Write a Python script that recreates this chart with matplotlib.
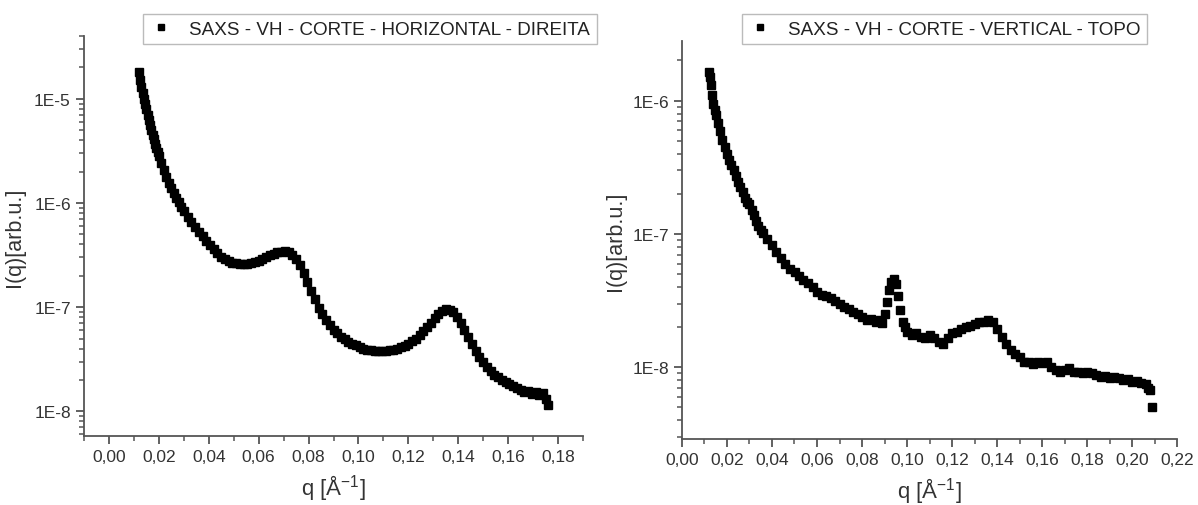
import matplotlib
matplotlib.use("Agg")
import matplotlib.pyplot as plt
import numpy as np
from matplotlib.ticker import MultipleLocator, LogLocator, FuncFormatter, NullFormatter

plt.rcParams['font.family'] = ['Liberation Sans', 'DejaVu Sans']
plt.rcParams['mathtext.default'] = 'regular'

# --- horizontal cut (left panel) ---
q_h = [0.0120, 0.0125, 0.0130, 0.0135, 0.0140, 0.0145, 0.0150, 0.0155, 0.0160, 0.0165,
       0.0170, 0.0175, 0.0180, 0.0185, 0.0190, 0.0195, 0.0200, 0.0210, 0.0220, 0.0230,
       0.0240, 0.0250, 0.0260, 0.0270, 0.0280, 0.0290, 0.0300, 0.0315, 0.0330, 0.0345,
       0.0360, 0.0375, 0.0390, 0.0405, 0.0420, 0.0435, 0.0450, 0.0465, 0.0480, 0.0495,
       0.0510, 0.0525, 0.0540, 0.0555, 0.0570, 0.0585, 0.0600, 0.0615, 0.0630, 0.0645,
       0.0660, 0.0675, 0.0690, 0.0705, 0.0720, 0.0735, 0.0750, 0.0765, 0.0780, 0.0795,
       0.0810, 0.0825, 0.0840, 0.0855, 0.0870, 0.0885, 0.0900, 0.0915, 0.0930, 0.0945,
       0.0960, 0.0975, 0.0990, 0.1005, 0.1020, 0.1035, 0.1050, 0.1065, 0.1080, 0.1095,
       0.1110, 0.1125, 0.1140, 0.1155, 0.1170, 0.1185, 0.1200, 0.1215, 0.1230, 0.1245,
       0.1260, 0.1275, 0.1290, 0.1305, 0.1320, 0.1335, 0.1350, 0.1365, 0.1380, 0.1395,
       0.1410, 0.1425, 0.1440, 0.1455, 0.1470, 0.1485, 0.1500, 0.1515, 0.1530, 0.1545,
       0.1560, 0.1575, 0.1590, 0.1605, 0.1620, 0.1635, 0.1650, 0.1665, 0.1680, 0.1695,
       0.1710, 0.1725, 0.1740, 0.1750, 0.1760]
i_h = [1.80e-5, 1.50e-5, 1.30e-5, 1.13e-5, 1.00e-5, 8.9e-6, 7.9e-6, 7.0e-6, 6.3e-6, 5.6e-6,
       5.0e-6, 4.5e-6, 4.1e-6, 3.7e-6, 3.35e-6, 3.05e-6, 2.8e-6, 2.4e-6, 2.05e-6, 1.78e-6,
       1.57e-6, 1.40e-6, 1.25e-6, 1.12e-6, 1.01e-6, 9.2e-7, 8.4e-7, 7.4e-7, 6.6e-7, 5.9e-7,
       5.3e-7, 4.8e-7, 4.35e-7, 3.95e-7, 3.6e-7, 3.3e-7, 3.05e-7, 2.88e-7, 2.76e-7, 2.68e-7,
       2.63e-7, 2.60e-7, 2.60e-7, 2.62e-7, 2.66e-7, 2.72e-7, 2.80e-7, 2.90e-7, 3.02e-7, 3.15e-7,
       3.27e-7, 3.36e-7, 3.41e-7, 3.42e-7, 3.36e-7, 3.18e-7, 2.90e-7, 2.52e-7, 2.12e-7, 1.75e-7,
       1.44e-7, 1.19e-7, 9.9e-8, 8.5e-8, 7.5e-8, 6.7e-8, 6.1e-8, 5.6e-8, 5.2e-8, 4.9e-8,
       4.65e-8, 4.45e-8, 4.3e-8, 4.15e-8, 4.0e-8, 3.9e-8, 3.85e-8, 3.8e-8, 3.78e-8, 3.78e-8,
       3.8e-8, 3.85e-8, 3.92e-8, 4.0e-8, 4.1e-8, 4.25e-8, 4.45e-8, 4.7e-8, 5.0e-8, 5.4e-8,
       5.9e-8, 6.5e-8, 7.1e-8, 7.8e-8, 8.5e-8, 9.1e-8, 9.5e-8, 9.4e-8, 8.9e-8, 8.1e-8,
       7.1e-8, 6.1e-8, 5.2e-8, 4.4e-8, 3.8e-8, 3.3e-8, 2.95e-8, 2.65e-8, 2.42e-8, 2.25e-8,
       2.12e-8, 2.0e-8, 1.9e-8, 1.82e-8, 1.74e-8, 1.67e-8, 1.6e-8, 1.52e-8, 1.58e-8, 1.48e-8,
       1.55e-8, 1.45e-8, 1.5e-8, 1.3e-8, 1.15e-8]

# --- vertical cut (right panel) ---
q_v = [0.0120, 0.0125, 0.0130, 0.0135, 0.0140, 0.0145, 0.0150, 0.0160, 0.0170, 0.0180,
       0.0190, 0.0200, 0.0210, 0.0220, 0.0230, 0.0240, 0.0250, 0.0260, 0.0270, 0.0280,
       0.0290, 0.0300, 0.0310, 0.0320, 0.0330, 0.0340, 0.0350, 0.0360, 0.0380, 0.0400,
       0.0420, 0.0440, 0.0460, 0.0480, 0.0500, 0.0520, 0.0540, 0.0560, 0.0580, 0.0600,
       0.0620, 0.0640, 0.0660, 0.0680, 0.0700, 0.0720, 0.0740, 0.0760, 0.0780, 0.0800,
       0.0820, 0.0840, 0.0860, 0.0880, 0.0890, 0.0900, 0.0910, 0.0920, 0.0930, 0.0940,
       0.0950, 0.0960, 0.0970, 0.0980, 0.0990, 0.1000, 0.1020, 0.1040, 0.1060, 0.1080,
       0.1100, 0.1120, 0.1140, 0.1160, 0.1180, 0.1200, 0.1220, 0.1240, 0.1260, 0.1280,
       0.1300, 0.1320, 0.1340, 0.1360, 0.1380, 0.1400, 0.1420, 0.1440, 0.1460, 0.1480,
       0.1500, 0.1520, 0.1540, 0.1560, 0.1580, 0.1600, 0.1620, 0.1640, 0.1660, 0.1680,
       0.1700, 0.1720, 0.1740, 0.1760, 0.1780, 0.1800, 0.1820, 0.1840, 0.1860, 0.1880,
       0.1900, 0.1920, 0.1940, 0.1960, 0.1980, 0.2000, 0.2020, 0.2040, 0.2060, 0.2070,
       0.2080, 0.2090]
i_v = [1.65e-6, 1.5e-6, 1.3e-6, 1.1e-6, 9.5e-7, 8.5e-7, 7.8e-7, 6.8e-7, 5.9e-7, 5.1e-7,
       4.5e-7, 4.0e-7, 3.6e-7, 3.3e-7, 3.0e-7, 2.7e-7, 2.45e-7, 2.25e-7, 2.05e-7, 1.85e-7,
       1.75e-7, 1.68e-7, 1.5e-7, 1.38e-7, 1.25e-7, 1.15e-7, 1.08e-7, 1.02e-7, 9.2e-8, 8.2e-8,
       7.3e-8, 6.6e-8, 6.0e-8, 5.5e-8, 5.2e-8, 4.8e-8, 4.5e-8, 4.3e-8, 4.0e-8, 3.7e-8,
       3.5e-8, 3.4e-8, 3.3e-8, 3.15e-8, 3.0e-8, 2.85e-8, 2.75e-8, 2.6e-8, 2.5e-8, 2.4e-8,
       2.25e-8, 2.3e-8, 2.2e-8, 2.25e-8, 2.15e-8, 2.5e-8, 3.1e-8, 3.8e-8, 4.4e-8, 4.6e-8,
       4.2e-8, 3.4e-8, 2.7e-8, 2.2e-8, 2.0e-8, 1.85e-8, 1.75e-8, 1.8e-8, 1.7e-8, 1.65e-8,
       1.75e-8, 1.65e-8, 1.55e-8, 1.5e-8, 1.65e-8, 1.8e-8, 1.85e-8, 1.95e-8, 2.0e-8, 2.05e-8,
       2.1e-8, 2.2e-8, 2.2e-8, 2.25e-8, 2.2e-8, 1.95e-8, 1.7e-8, 1.5e-8, 1.35e-8, 1.25e-8,
       1.2e-8, 1.1e-8, 1.1e-8, 1.05e-8, 1.1e-8, 1.08e-8, 1.1e-8, 1.0e-8, 9.5e-9, 9.2e-9,
       9.6e-9, 9.8e-9, 9.3e-9, 9.2e-9, 9.0e-9, 9.3e-9, 9.0e-9, 8.8e-9, 8.5e-9, 8.6e-9,
       8.3e-9, 8.5e-9, 8.3e-9, 8.0e-9, 8.2e-9, 7.8e-9, 7.9e-9, 7.6e-9, 7.5e-9, 7.0e-9,
       6.8e-9, 5.0e-9]

label_h = "SAXS - VH - CORTE - HORIZONTAL - DIREITA"
label_v = "SAXS - VH - CORTE - VERTICAL - TOPO"

W, H = 1198, 506
fig = plt.figure(figsize=(W / 100, H / 100), dpi=100)

axes_px = [(84, 37, 583, 437), (682, 42, 1177, 440)]
axs = []
for x0, y0, x1, y1 in axes_px:
    axs.append(fig.add_axes([x0 / W, 1 - y1 / H, (x1 - x0) / W, (y1 - y0) / H]))

def style(ax):
    for s in ['top', 'right']:
        ax.spines[s].set_visible(False)
    for s in ['left', 'bottom']:
        ax.spines[s].set_color('#555555')
        ax.spines[s].set_linewidth(1.3)
    ax.set_yscale('log')
    ax.xaxis.set_major_locator(MultipleLocator(0.02))
    ax.xaxis.set_minor_locator(MultipleLocator(0.01))
    ax.xaxis.set_major_formatter(FuncFormatter(lambda v, p: f"{v:.2f}".replace('.', ',')))
    ax.yaxis.set_major_locator(LogLocator(base=10))
    ax.yaxis.set_minor_locator(LogLocator(base=10, subs=np.arange(2, 10)))
    ax.yaxis.set_major_formatter(FuncFormatter(lambda v, p: f"1E{int(round(np.log10(v)))}"))
    ax.yaxis.set_minor_formatter(NullFormatter())
    ax.tick_params(which='major', direction='out', length=6, width=1.3,
                   color='#555555', labelsize=12.5, labelcolor='#333333')
    ax.tick_params(which='minor', direction='out', length=3.5, width=1.1, color='#555555')
    ax.set_xlabel(r"q [Å$^{-1}$]", fontsize=16, color='#333333', labelpad=6)
    ax.set_ylabel("I(q)[arb.u.]", fontsize=15.5, color='#333333')

ax = axs[0]
ax.plot(q_h, i_h, 's', color='black', ms=6, label=label_h)
style(ax)
ax.set_xlim(-0.01, 0.19)
ax.set_ylim(5.8e-9, 4.0e-5)
ax.yaxis.set_label_coords(-0.118, 0.5)

ax = axs[1]
ax.plot(q_v, i_v, 's', color='black', ms=6, label=label_v)
style(ax)
ax.set_xlim(0.0, 0.22)
ax.set_ylim(2.9e-9, 2.8e-6)
ax.yaxis.set_label_coords(-0.113, 0.5)

legends = [(axs[0], 143, 15), (axs[1], 742, 15)]
for ax, lx, ly in legends:
    leg = ax.legend(loc='upper left', bbox_to_anchor=(lx / W, 1 - ly / H),
                    bbox_transform=fig.transFigure, borderaxespad=0, fontsize=13.6,
                    frameon=True, fancybox=False, markerscale=0.8, handletextpad=0.9,
                    handlelength=1.2, borderpad=0.35)
    leg.get_frame().set_edgecolor('#aaaaaa')
    leg.get_frame().set_linewidth(1.0)
    for t in leg.get_texts():
        t.set_color('#222222')

fig.savefig("out.png", dpi=100)
